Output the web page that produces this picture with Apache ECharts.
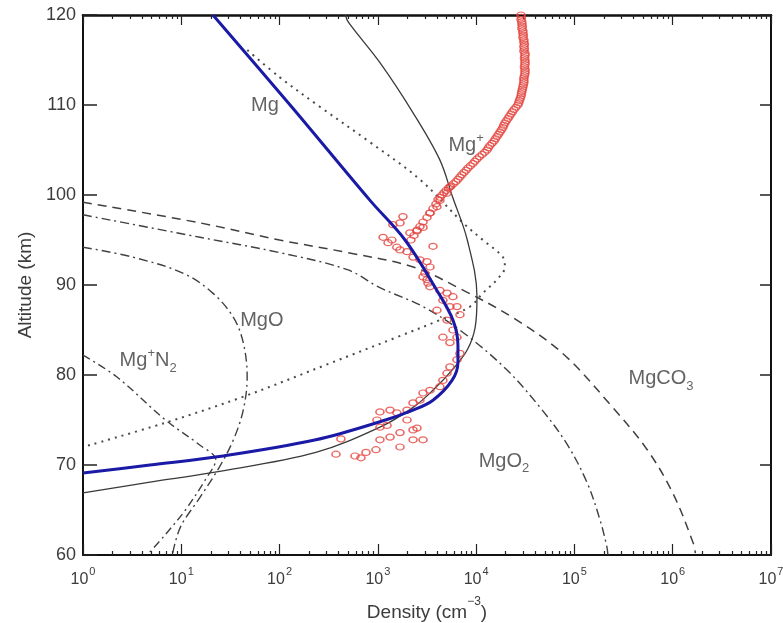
<!DOCTYPE html>
<html><head><meta charset="utf-8">
<script src="https://cdn.jsdelivr.net/npm/echarts@6/dist/echarts.min.js"></script>
<style>html,body{margin:0;padding:0;background:#fff}#c{width:783px;height:623px}</style>
</head><body><div id="c"></div>
<script>
// ---- data (density cm^-3, altitude km) ----
const xMajorTicks = [1, 10, 100, 1e3, 1e4, 1e5, 1e6, 1e7];
const minorMultipliers = [2, 3, 4, 5, 6, 7, 8, 9];
const yTicks = [60, 70, 80, 90, 100, 110, 120];

const mgModel = [[21,120],[128,110],[832,99.4],[1890,95.0],[3990,89.4],[5810,86.1],[6530,83.3],[6530,81.4],[5680,79.4],[3640,77.2],[2280,76.1],[1050,74.8],[234,72.8],[26.6,71.0],[4.8,70.0],[1,69.1]];
const mgIonModel = [[468,120],[501,119.2],[1050,114.7],[2290,109.1],[4270,103.9],[5750,99.8],[8130,95.0],[10200,88.7],[9770,85.3],[8130,82.8],[5750,80.6],[3630,78.3],[2290,76.4],[1050,74.2],[234,71.4],[22,69.2],[4.8,68.1],[1,66.9]];
const dottedModel = [[47,116.1],[100,113.1],[257,109.8],[776,106.1],[2690,101.7],[7360,96.9],[11700,95.0],[18700,93.1],[19600,92.0],[16300,90.6],[11700,89.1],[8660,87.6],[4270,86.1],[1560,84.2],[325,81.3],[43,77.6],[6.9,74.7],[1,72.0]];
const mgco3Model = [[1,99.2],[15.5,96.9],[100,95.0],[490,93.6],[2290,92.0],[7410,89.4],[23400,86.4],[75900,82.4],[245000,76.4],[550000,71.7],[1000000,66.9],[1620000,61.3],[1700000,60.2]];
const mgo2Model = [[1,97.8],[15.5,95.3],[100,93.6],[490,91.7],[1050,89.7],[2880,87.6],[7410,84.7],[20400,80.6],[44700,76.4],[83200,72.4],[135000,68.0],[182000,63.9],[214000,60.9],[219000,60]];
const mgoModel = [[1,94.2],[3.2,93.1],[10.5,91.3],[20.9,89.1],[33.9,86.4],[42.7,83.6],[46.8,79.8],[42.7,76.1],[33.9,72.8],[24.5,69.8],[15.5,66.4],[9.8,63.1],[8.1,60]];
const mgN2Model = [[1,82.2],[2.2,79.8],[6.9,75.0],[15.5,72.2],[22.4,70.6],[17.4,68.3],[11,65.0],[6.8,62.2],[4.5,60]];

const obsUpper = [[28600,120],[28900,119.75],[28600,119.5],[29200,119.25],[29200,119],[29500,118.75],[29200,118.5],[29900,118.25],[29900,118],[30200,117.75],[29900,117.5],[30600,117.25],[30600,117],[31000,116.75],[30600,116.5],[31000,116.25],[30600,116],[31400,115.75],[31400,115.5],[31000,115.25],[31400,115],[31400,114.75],[31400,114.5],[31000,114.25],[31400,114],[31400,113.75],[31400,113.5],[31000,113.25],[30600,113],[30600,112.75],[30600,112.5],[30200,112.25],[29900,112],[29500,111.75],[29200,111.5],[28900,111.25],[28600,111],[28100,110.75],[27600,110.5],[27100,110.25],[26600,110],[25400,109.75],[24300,109.5],[23400,109.25],[22600,109],[21800,108.75],[21100,108.5],[20300,108.25],[19600,108],[19100,107.75],[18700,107.5],[18100,107.25],[17500,107],[16900,106.75],[16300,106.5],[15700,106.25],[15200,106],[14500,105.75],[13800,105.5],[13300,105.25],[12900,105],[12200,104.75],[11500,104.5],[10800,104.25],[10200,104],[9700,103.75],[9270,103.5],[8750,103.25],[8260,103],[7900,102.75],[7510,102.5],[7150,102.25],[6840,102],[6530,101.75],[6230,101.5],[5880,101.25],[5540,101],[5220,100.75],[4930,100.5],[4700,100.25],[4490,100],[4290,99.75],[4090,99.5],[3900,99],[3640,98.5],[3390,98],[3160,97.5],[2880,97],[2680,96.5],[2500,96],[2330,95.5],[2170,95]];
const obsLower = [[5410,100.9],[5050,100.2],[4280,99.4],[3990,98.7],[3390,98.0],[2880,96.4],[2500,96.1],[2120,95.8],[1800,97.6],[1680,96.9],[1420,96.7],[1130,95.3],[1390,95.0],[1560,94.2],[1680,93.9],[1980,93.7],[2280,93.1],[2680,92.8],[3160,92.6],[3390,92.0],[2880,90.9],[3160,90.6],[3390,89.8],[4280,89.4],[5050,89.1],[5810,88.7],[4590,88.3],[5410,87.6],[6380,87.6],[3990,87.2],[5050,86.1],[6840,86.7],[5810,85.0],[4590,84.2],[5410,83.6],[6380,84.2],[6840,82.4],[6380,81.7],[5410,80.9],[5050,80.2],[4590,79.4],[4280,78.7],[3390,78.3],[2880,78.0],[2680,77.2],[2280,76.9],[1980,76.1],[1560,75.8],[1330,76.1],[1050,75.9],[979,75.0],[1240,74.4],[1050,74.2],[421,72.9],[375,71.2],[585,71.0],[673,70.8],[757,71.4],[957,71.7],[1980,75.0],[2280,73.9],[1680,73.6],[1330,73.1],[1050,72.8],[1680,72.0],[2280,72.8],[2880,72.8],[2500,74.1],[1270,94.7],[3010,91.3],[3240,90.2],[3640,94.3]];

const speciesLabels = [
  {name: '{t|Mg}', at: [71, 110]},
  {name: '{t|Mg}{sup|+}', at: [7900, 105.5]},
  {name: '{t|MgO}', at: [66, 86.1]},
  {name: '{t|Mg}{sup|+}{t|N}{sub|2}', at: [4.6, 81.6]},
  {name: '{t|MgCO}{sub|3}', at: [760000, 79.6]},
  {name: '{t|MgO}{sub|2}', at: [19200, 70.4]}
];

// ---- chart ----
const FONT = 'Liberation Sans, Arial, sans-serif';
const TXT = '#3c3c3c';
const minorTicks = [];
for (let d = 1; d < 1e7; d *= 10) minorMultipliers.forEach(m => minorTicks.push(m * d));

const chart = echarts.init(document.getElementById('c'), null, {renderer: 'canvas'});
const logLabel = v => '{b|10}{s|' + Math.round(Math.log10(v)) + '}';

function logAxis(pos, ticks, len, showLabel, showLine) {
  return {
    type: 'log', logBase: 10, min: 1, max: 1e7, position: pos,
    axisLine: {show: showLine, onZero: false, lineStyle: {color: '#111', width: pos === 'top' ? 2.5 : 2}},
    axisTick: {show: true, inside: true, length: len, customValues: ticks, lineStyle: {color: '#222', width: 1.2}},
    axisLabel: showLabel ? {
      show: true, customValues: xMajorTicks, margin: 11, formatter: logLabel,
      rich: {b: {fontSize: 16, fontFamily: FONT, color: TXT, lineHeight: 22, verticalAlign: 'bottom'},
             s: {fontSize: 11, fontFamily: FONT, color: TXT, lineHeight: 22, verticalAlign: 'top', padding: [0,0,0,1]}}
    } : {show: false},
    splitLine: {show: false}, minorTick: {show: false}
  };
}

const xAxes = [
  Object.assign(logAxis('bottom', xMajorTicks, 11, true, true), {
    name: '{a|Density (cm}{s|\u22123}{a|)}', nameLocation: 'middle', nameGap: 41,
    nameTextStyle: {rich: {a: {fontSize: 19, fontFamily: FONT, color: TXT, lineHeight: 26, verticalAlign: 'bottom'},
                           s: {fontSize: 12, fontFamily: FONT, color: TXT, lineHeight: 26, verticalAlign: 'top'}}}
  }),
  logAxis('bottom', minorTicks, 4, false, false),
  logAxis('top', xMajorTicks, 10, false, true),
  logAxis('top', minorTicks, 4, false, false)
];

const lineBase = (data, color, width, type, z) => ({
  type: 'line', data: data, showSymbol: false, symbol: 'none', smooth: 0.35, clip: true, z: z || 2,
  lineStyle: {color: color, width: width, type: type}, silent: true, animation: false
});

const obsStyle = {color: 'rgba(255,255,255,0)', borderColor: '#e4433d', borderWidth: 1.4};

const option = {
  backgroundColor: '#ffffff',
  animation: false,
  grid: {left: 83, right: 12, top: 15, bottom: 68, containLabel: false, outerBoundsMode: 'none'},
  xAxis: xAxes,
  yAxis: [
    {type: 'value', min: 60, max: 120, interval: 10, position: 'left',
     name: 'Altitude (km)', nameLocation: 'middle', nameGap: 47, nameRotate: 90,
     nameTextStyle: {fontSize: 19, fontFamily: FONT, color: TXT},
     axisLine: {show: true, lineStyle: {color: '#111', width: 2}},
     axisTick: {show: true, inside: true, length: 14, lineStyle: {color: '#222', width: 1.5}},
     axisLabel: {fontSize: 18, fontFamily: FONT, color: TXT, margin: 7, customValues: yTicks},
     splitLine: {show: false}},
    {type: 'value', min: 60, max: 120, interval: 10, position: 'right',
     axisLine: {show: true, lineStyle: {color: '#111', width: 2}},
     axisTick: {show: true, inside: true, length: 11, lineStyle: {color: '#222', width: 1.5}},
     axisLabel: {show: false}, splitLine: {show: false}}
  ],
  series: [
    lineBase(mgco3Model, '#404040', 1.5, [9, 6]),
    lineBase(mgo2Model, '#404040', 1.4, [9, 4, 2, 4]),
    lineBase(mgoModel, '#404040', 1.4, [9, 4, 2, 4]),
    lineBase(mgN2Model, '#404040', 1.4, [8, 4, 2, 4]),
    lineBase(dottedModel, '#4a4a4a', 2, [2, 5]),
    lineBase(mgIonModel, '#3a3a3a', 1.3, 'solid', 3),
    {type: 'scatter', data: obsUpper, symbol: 'circle', symbolSize: [8, 6], z: 4, silent: true, itemStyle: obsStyle},
    {type: 'scatter', data: obsLower, symbol: 'circle', symbolSize: [8, 6], z: 4, silent: true, itemStyle: obsStyle},
    lineBase(mgModel, '#1a1aa6', 3, 'solid', 5),
    {type: 'scatter', symbolSize: 0, z: 6, silent: true,
     data: speciesLabels.map(l => ({value: l.at, label: {formatter: l.name}})),
     label: {show: true, position: 'inside',
       rich: {t: {fontSize: 20, fontFamily: FONT, color: TXT, lineHeight: 28, verticalAlign: 'middle'},
              sup: {fontSize: 13, fontFamily: FONT, color: TXT, lineHeight: 28, verticalAlign: 'top'},
              sub: {fontSize: 13, fontFamily: FONT, color: TXT, lineHeight: 28, verticalAlign: 'bottom'}}}}
  ]
};
chart.setOption(option);
</script></body></html>
